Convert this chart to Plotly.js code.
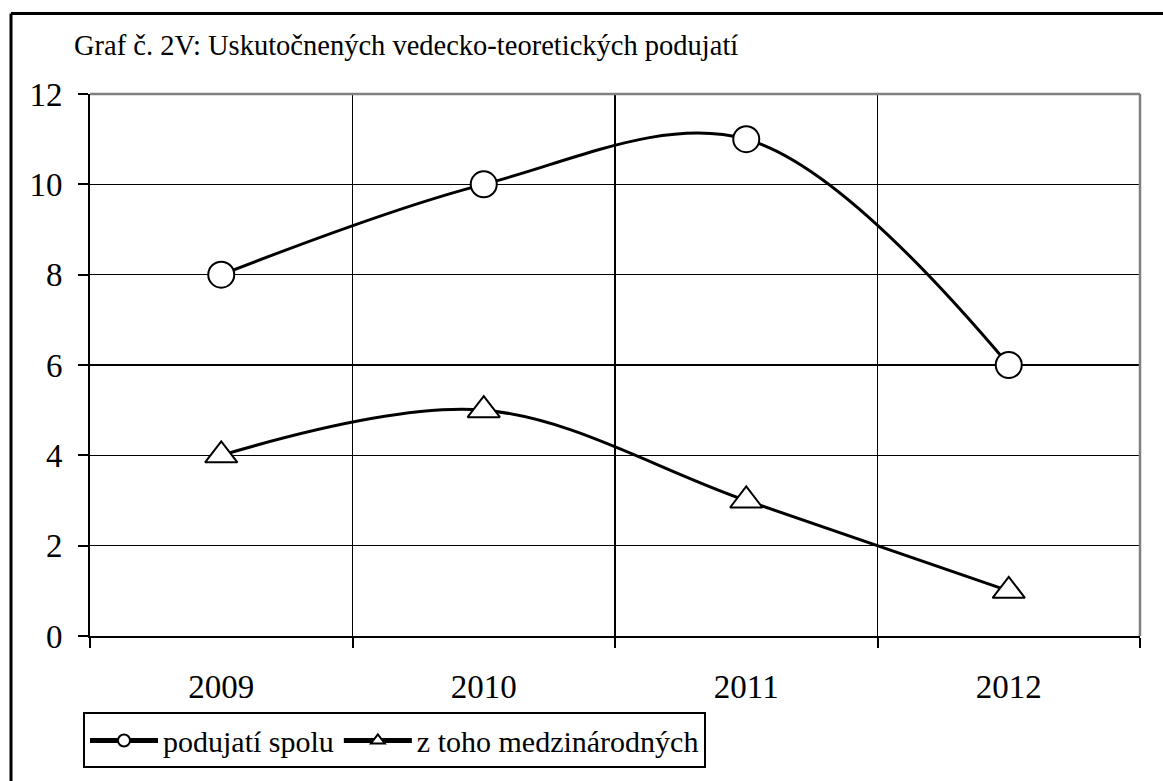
<!DOCTYPE html>
<html>
<head>
<meta charset="utf-8">
<script src="https://cdn.plot.ly/plotly-3.0.1.min.js"></script>
<style>
  html, body { margin: 0; padding: 0; background: #fff; }
  #chart { width: 1163px; height: 781px; }
</style>
</head>
<body>
<div id="chart"></div>
<script>
const years = ['2009', '2010', '2011', '2012'];
const totalEvents = [8, 10, 11, 6];
const internationalEvents = [4, 5, 3, 1];
const seriesNames = ['podujatí spolu', 'z toho medzinárodných'];
const chartTitle = 'Graf č. 2V: Uskutočnených vedecko-teoretických podujatí';
const yTicks = [0, 2, 4, 6, 8, 10, 12];

const W = 1163, H = 781;
const mL = 90, mR = 23, mT = 94, mB = 141;
const pw = W - mL - mR, ph = H - mT - mB;
const px = x => (x - mL) / pw;
const py = y => (H - mB - y) / ph;

const FONT = '"Liberation Serif", "Times New Roman", serif';
const FS = 30;
const TITLEFS = 28.5;
const TFS = 33;

const traces = [
  {
    x: years, y: totalEvents, name: seriesNames[0],
    type: 'scatter', mode: 'lines+markers',
    line: { color: '#000', width: 3, shape: 'spline', smoothing: 1 },
    marker: { symbol: 'circle', size: 26, color: '#fff', line: { color: '#000', width: 2 } }
  },
  {
    x: years, y: internationalEvents, name: seriesNames[1],
    type: 'scatter', mode: 'lines+markers',
    line: { color: '#000', width: 3, shape: 'spline', smoothing: 1 },
    marker: { symbol: 'triangle-up', size: 28, color: '#fff', line: { color: '#000', width: 2 } }
  }
];

const layout = {
  width: W, height: H,
  margin: { l: mL, r: mR, t: mT, b: mB, pad: 0 },
  paper_bgcolor: '#fff', plot_bgcolor: '#fff',
  font: { family: FONT, size: FS, color: '#000' },
  title: {
    text: chartTitle, xref: 'container', yref: 'container',
    x: 74 / W, xanchor: 'left', y: 1 - 45 / H, yanchor: 'middle',
    font: { family: FONT, size: TITLEFS, color: '#000' }
  },
  showlegend: true,
  legend: {
    orientation: 'h', x: px(83), y: py(717), xanchor: 'left', yanchor: 'top',
    bordercolor: '#000', borderwidth: 2, bgcolor: '#fff',
    font: { family: FONT, size: FS, color: '#000' },
    itemsizing: 'constant', traceorder: 'normal', itemwidth: 68
  },
  xaxis: {
    type: 'category', tickson: 'boundaries', range: [-0.5, 3.5],
    showgrid: true, gridcolor: '#000', gridwidth: 1.5,
    showline: true, linecolor: '#000', linewidth: 2,
    ticks: 'outside', ticklen: 10, tickcolor: '#000', tickwidth: 2,
    ticklabelstandoff: 20,
    tickfont: { family: FONT, size: TFS, color: '#000' },
    zeroline: false, fixedrange: true
  },
  yaxis: {
    range: [0, 12], tickvals: yTicks, ticktext: yTicks.map(String),
    showgrid: true, gridcolor: '#000', gridwidth: 1.5,
    showline: true, linecolor: '#000', linewidth: 2,
    ticks: 'outside', ticklen: 10, tickcolor: '#000', tickwidth: 2,
    ticklabelstandoff: 9,
    tickfont: { family: FONT, size: TFS, color: '#000' },
    zeroline: false, fixedrange: true
  },
  shapes: [
    { type: 'line', xref: 'paper', yref: 'paper', x0: 0, x1: 1, y0: 1, y1: 1, line: { color: '#808080', width: 2.5 } },
    { type: 'line', xref: 'paper', yref: 'paper', x0: 1, x1: 1, y0: 0, y1: 1, line: { color: '#808080', width: 2.5 } },
    { type: 'line', xref: 'paper', yref: 'paper', x0: px(11), x1: px(1200), y0: py(13), y1: py(13), line: { color: '#000', width: 3 } },
    { type: 'line', xref: 'paper', yref: 'paper', x0: px(11), x1: px(11), y0: py(13), y1: py(800), line: { color: '#000', width: 3 } }
  ]
};

Plotly.newPlot('chart', traces, layout, { displayModeBar: false, staticPlot: true });
</script>
</body>
</html>
